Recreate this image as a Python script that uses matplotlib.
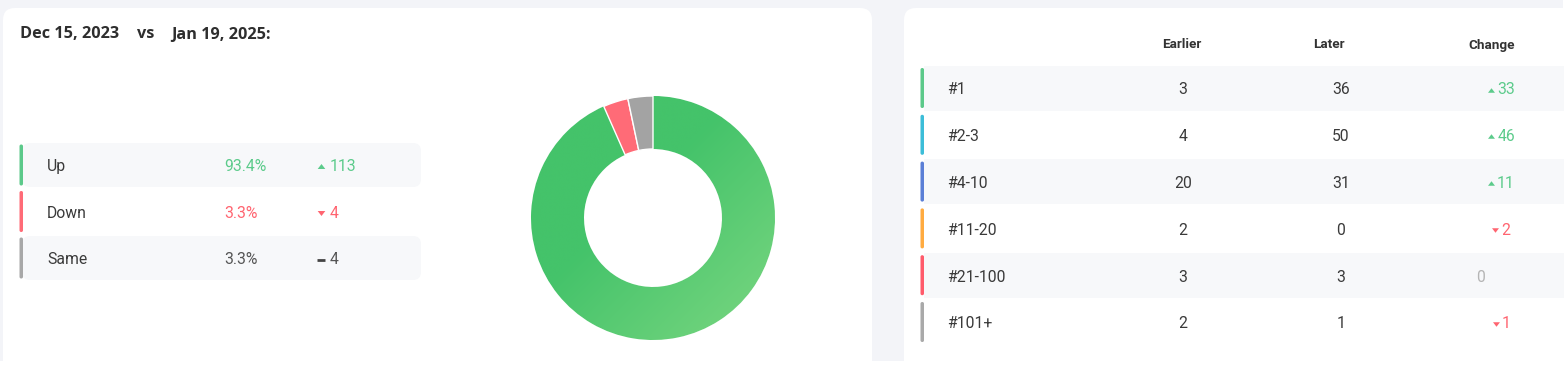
import numpy as np
import matplotlib
matplotlib.use("Agg")
import matplotlib.pyplot as plt
from matplotlib.patches import FancyBboxPatch, Rectangle
from matplotlib.path import Path
from matplotlib.colors import LinearSegmentedColormap

# ---------------- data ----------------
title_from = "Dec 15, 2023"
title_vs = "vs"
title_to = "Jan 19, 2025:"

summary_labels = ["Up", "Down", "Same"]
summary_counts = [113, 4, 4]

rank_labels = ["#1", "#2-3", "#4-10", "#11-20", "#21-100", "#101+"]
earlier = [3, 4, 20, 2, 3, 2]
later = [36, 50, 31, 0, 3, 1]
col_headers = ["Earlier", "Later", "Change"]

# ---------------- styles ----------------
BG = "#f3f4f8"
ROW_BG = "#f7f8fa"
TXT = "#3a3a3a"
GREEN_T = "#5ccb8b"
RED_T = "#ff6470"
GREY_T = "#b5b5b5"
summary_text_colors = [GREEN_T, RED_T, "#555555"]
summary_bar_colors = ["#5cc98a", "#ff6b77", "#a8a8a8"]
donut_colors = ["#46c46c", "#ff6b77", "#a3a3a3"]
rank_bar_colors = ["#5cc98a", "#3cbdd8", "#5b7fd6", "#ffab40", "#ff5b6b", "#a9a9a9"]

FONT = "Roboto"
FS = 11.3
DY = 1.8  # text baseline nudge
W, H = 1568, 390
fig = plt.figure(figsize=(W / 100, H / 100), dpi=100)
fig.patch.set_facecolor("white")
ax = fig.add_axes([0, 0, 1, 1])
ax.set_xlim(0, W)
ax.set_ylim(H, 0)
ax.axis("off")

# background + cards
ax.add_patch(Rectangle((0, 0), 1563, 361, facecolor=BG, edgecolor="none", zorder=0))
ax.add_patch(FancyBboxPatch((3, 8), 869, 420, boxstyle="round,pad=0,rounding_size=12",
                            facecolor="white", edgecolor="none", zorder=1))
ax.add_patch(FancyBboxPatch((904, 8), 700, 420, boxstyle="round,pad=0,rounding_size=12",
                            facecolor="white", edgecolor="none", zorder=1))
ax.add_patch(Rectangle((0, 361), W, H - 361, facecolor="white", edgecolor="none", zorder=1))

# title
TFS = 11.7
for x, s in zip([20, 137, 171], [title_from, title_vs, title_to]):
    ax.text(x, 34.5, s, fontsize=TFS, fontweight="bold", family="Open Sans",
            color="#2e2e2e", va="center", ha="left", zorder=3)

tri_up = Path([(-1, -0.65), (1, -0.65), (0, 0.65), (-1, -0.65)],
              [Path.MOVETO, Path.LINETO, Path.LINETO, Path.CLOSEPOLY])
tri_dn = Path([(-1, 0.65), (1, 0.65), (0, -0.65), (-1, 0.65)],
              [Path.MOVETO, Path.LINETO, Path.LINETO, Path.CLOSEPOLY])

# ---------------- left summary ----------------
total = sum(summary_counts)
for i, (lab, cnt) in enumerate(zip(summary_labels, summary_counts)):
    cy = 165 + i * 46.5
    if i != 1:
        ax.add_patch(FancyBboxPatch((22, cy - 22), 399, 44,
                                    boxstyle="round,pad=0,rounding_size=8",
                                    facecolor=ROW_BG, edgecolor="none", zorder=2))
    ax.add_patch(FancyBboxPatch((19.5, cy - 20.5), 3.5, 41,
                                boxstyle="round,pad=0,rounding_size=1.7",
                                facecolor=summary_bar_colors[i], edgecolor="none", zorder=3))
    ax.text(47, cy + DY, lab, fontsize=FS, family=FONT, color=TXT, va="center", zorder=4)
    ax.text(224, cy + DY, f"{cnt / total * 100:.1f}%", fontsize=FS, family=FONT,
            color=summary_text_colors[i], va="center", zorder=4)
    if i == 0:
        ax.plot([321], [cy + 1], marker=tri_up, ms=5.5, color=GREEN_T, mew=0, zorder=4)
    elif i == 1:
        ax.plot([321], [cy + 1], marker=tri_dn, ms=5.5, color=RED_T, mew=0, zorder=4)
    else:
        ax.plot([317.5, 325], [cy + 1.5, cy + 1.5], color="#444444", lw=2.0, zorder=4,
                solid_capstyle="butt")
    ax.text(330, cy + DY, f"{cnt}", fontsize=FS, family=FONT,
            color=summary_text_colors[i], va="center", zorder=4)

# ---------------- donut ----------------
cx, cyd, R = 653, 218, 122
dax = fig.add_axes([(cx - R) / W, (H - cyd - R) / H, 2 * R / W, 2 * R / H], zorder=5)
dax.set_facecolor("none")
wedges, _ = dax.pie(summary_counts, colors=donut_colors, startangle=90, counterclock=False,
                    radius=1, wedgeprops=dict(width=(R - 69) / R, edgecolor="white",
                                              linewidth=1.0))
dax.set_xlim(-1, 1)
dax.set_ylim(-1, 1)
dax.set_aspect("equal")
dax.axis("off")
gx, gy = np.meshgrid(np.linspace(-1, 1, 300), np.linspace(-1, 1, 300))
t = np.clip((gx - gy) / 2.2 + 0.15, 0, 1)
cmap = LinearSegmentedColormap.from_list("g", ["#44c36a", "#78d680"])
im = dax.imshow(t, extent=[-1, 1, -1, 1], origin="lower", cmap=cmap, vmin=0, vmax=1,
                zorder=1.5, interpolation="bilinear")
im.set_clip_path(wedges[0])
wedges[0].set_zorder(1)
for w in wedges[1:]:
    w.set_zorder(2)

# ---------------- right table ----------------
col_x = [1182, 1329, 1492]
for x, h in zip(col_x, col_headers):
    ax.text(x, 45, h, fontsize=9.7, fontweight="bold", family=FONT, color="#333333",
            ha="center", va="center", zorder=4)

num_texts = []
for i, lab in enumerate(rank_labels):
    cy = 88 + i * 46.8
    if i % 2 == 0:
        ax.add_patch(Rectangle((924, cy - 22.5), 640, 45, facecolor=ROW_BG,
                               edgecolor="none", zorder=2))
    ax.add_patch(FancyBboxPatch((920.5, cy - 20), 3.5, 40,
                                boxstyle="round,pad=0,rounding_size=1.7",
                                facecolor=rank_bar_colors[i], edgecolor="none", zorder=3))
    ax.text(947, cy + DY, lab, fontsize=FS, family=FONT, color=TXT, va="center", zorder=4)
    ax.text(1183, cy + DY, f"{earlier[i]}", fontsize=FS, family=FONT, color=TXT,
            ha="center", va="center", zorder=4)
    ax.text(1341, cy + DY, f"{later[i]}", fontsize=FS, family=FONT, color=TXT,
            ha="center", va="center", zorder=4)
    d = later[i] - earlier[i]
    if d == 0:
        ax.text(1481, cy + DY, "0", fontsize=FS, family=FONT, color=GREY_T,
                ha="center", va="center", zorder=4)
    else:
        col = GREEN_T if d > 0 else RED_T
        tt = ax.text(1506, cy + DY, f"{abs(d)}", fontsize=FS, family=FONT, color=col,
                     ha="center", va="center", zorder=4)
        num_texts.append((tt, d, cy, col))

fig.canvas.draw()
r = fig.canvas.get_renderer()
inv = ax.transData.inverted()
for tt, d, cy, col in num_texts:
    bb = tt.get_window_extent(r)
    x0 = inv.transform((bb.x0, bb.y0))[0]
    ax.plot([x0 - 6], [cy + 1.5], marker=tri_up if d > 0 else tri_dn, ms=5,
            color=col, mew=0, zorder=4)

fig.savefig("out.png", dpi=100, facecolor="white")
